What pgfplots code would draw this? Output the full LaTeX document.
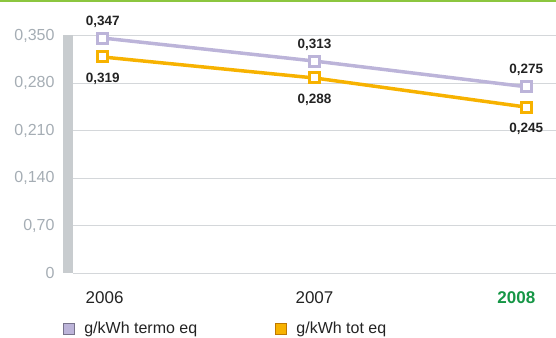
\documentclass[border=0pt]{standalone}
\usepackage{pgfplots}
\pgfplotsset{compat=1.18}
\usepackage{fontspec}
\setmainfont{Liberation Sans}
\definecolor{lav}{RGB}{188,180,217}
\definecolor{lavdark}{RGB}{120,115,140}
\definecolor{amber}{RGB}{247,178,0}
\definecolor{amberdark}{RGB}{190,120,0}
\definecolor{gridgray}{RGB}{212,215,218}
\definecolor{bargray}{RGB}{200,204,207}
\definecolor{tickgray}{RGB}{165,173,180}
\definecolor{topgreen}{RGB}{140,198,63}
\definecolor{yeargreen}{RGB}{22,150,70}
\definecolor{labelblack}{RGB}{35,35,35}
\begin{document}
\begin{tikzpicture}[x=1pt,y=1pt]
\useasboundingbox (0,0) rectangle (556,337);
% thin green rule along the top edge
\fill[topgreen] (0,334.5) rectangle (556,337);
% grey bar standing in for the value axis
\fill[bargray] (63,64) rectangle (73,302);
\begin{axis}[
  at={(73pt,64pt)}, anchor=south west,
  scale only axis, width=483pt, height=237pt,
  xmin=-0.14, xmax=2.14, ymin=0, ymax=0.35,
  clip=false,
  axis line style={draw=none},
  major tick length=0pt,
  ymajorgrids, grid style={gridgray, line width=1pt},
  xtick={0,1,2},
  xticklabels={{\hspace*{4pt}2006},2007,{\textcolor{yeargreen}{\bfseries 2008}\hspace*{20pt}}},
  xticklabel style={font=\fontsize{17}{20}\selectfont, text=labelblack, yshift=-15pt},
  ytick={0,0.07,0.14,0.21,0.28,0.35},
  yticklabels={0,{0,70},{0,140},{0,210},{0,280},{0,350}},
  yticklabel style={font=\fontsize{16}{19}\selectfont, text=tickgray, xshift=-15pt},
  /pgf/number format/.cd, use comma, fixed, fixed zerofill, precision=3, assume math mode=true,
  /pgfplots/.cd,
  nodes near coords,
  nodes near coords style={font=\bfseries\fontsize{13.5}{16}\selectfont, text=labelblack},
  legend columns=2,
  legend style={at={(0,0)}, anchor=north west, xshift=-10pt, yshift=-47pt,
    draw=none, fill=none, inner sep=0pt,
    font=\fontsize{16}{19}\selectfont, text=labelblack,
    /tikz/every even column/.append style={column sep=76pt}},
]
\addplot[lav, line width=3.5pt, mark=square*,
  mark options={solid, fill=white, draw=lav, line width=3pt}, mark size=5pt,
  every node near coord/.append style={anchor=south, yshift=6pt},
  legend image code/.code={\filldraw[draw=lavdark, fill=lav, line width=0.8pt] (0pt,-5.5pt) rectangle (11pt,5.5pt); \path (17pt,0pt);}]
  coordinates {(0,0.347) (1,0.313) (2,0.275)};
\addlegendentry{g/kWh termo eq}
\addplot[amber, line width=3.5pt, mark=square*,
  mark options={solid, fill=white, draw=amber, line width=3pt}, mark size=5pt,
  every node near coord/.append style={anchor=north, yshift=-11pt},
  legend image code/.code={\filldraw[draw=amberdark, fill=amber, line width=0.8pt] (0pt,-5.5pt) rectangle (11pt,5.5pt); \path (17pt,0pt);}]
  coordinates {(0,0.319) (1,0.288) (2,0.245)};
\addlegendentry{g/kWh tot eq}
\end{axis}
\end{tikzpicture}
\end{document}
